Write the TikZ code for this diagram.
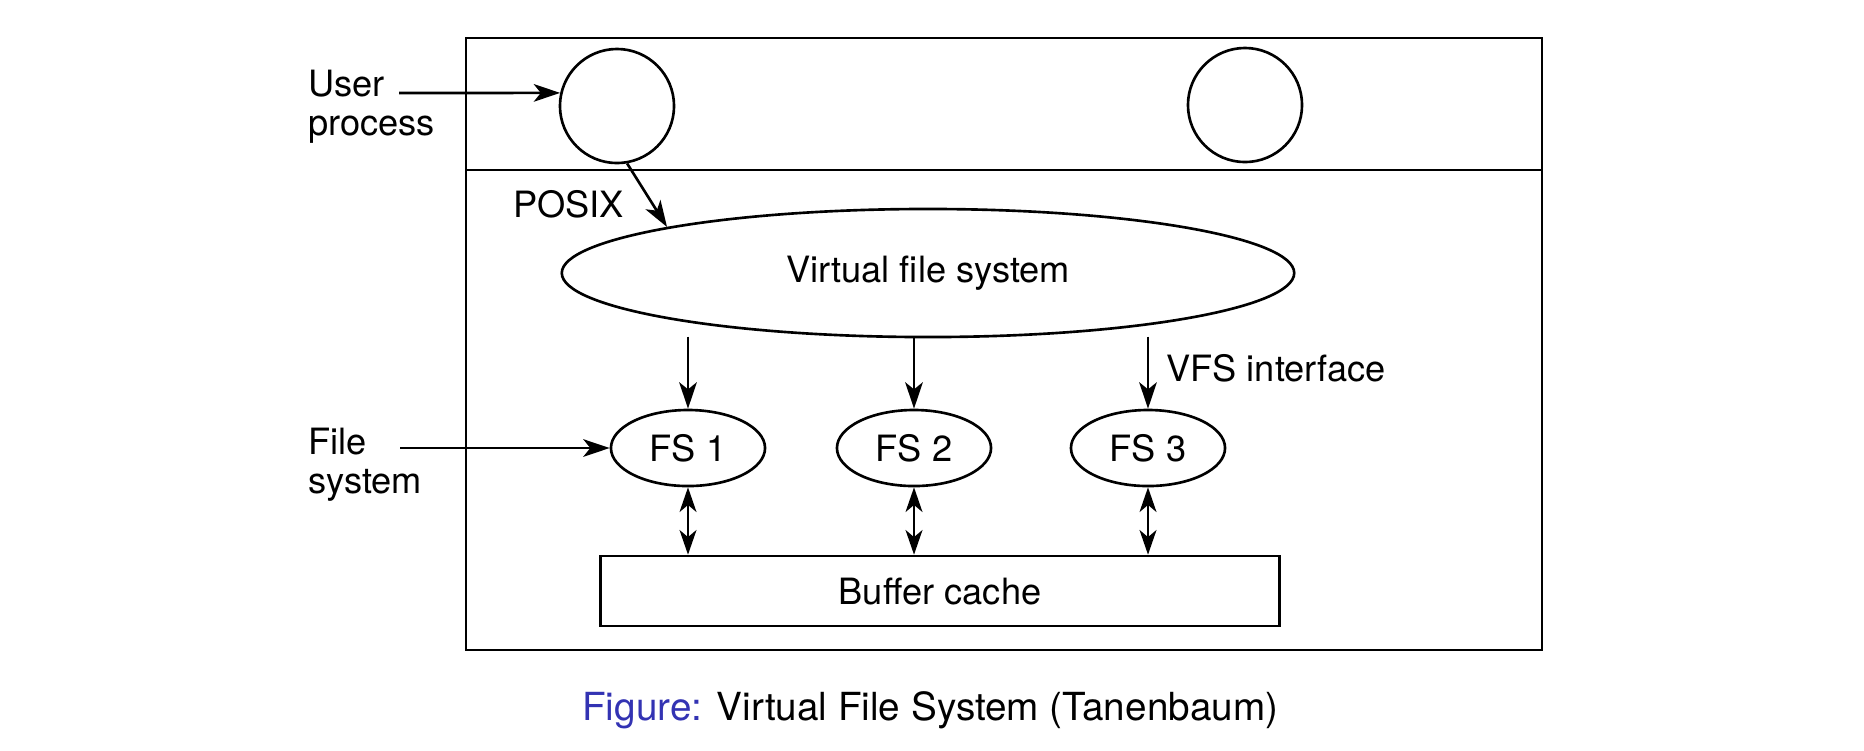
\documentclass[tikz,border=0pt]{standalone}
\usepackage{fontspec}
\setmainfont{TeX Gyre Heros}
\usetikzlibrary{shapes.geometric,arrows.meta}
\definecolor{figblue}{RGB}{51,51,179}

\begin{document}
\begin{tikzpicture}[x=0.01cm, y=-0.01cm, line width=0.75pt,
        every node/.style={font=\fontsize{10.3}{11.1}\selectfont},
        arr/.style={-{Stealth[length=7.5pt,width=5pt,inset=2pt]}},
        darr/.style={{Stealth[length=7pt,width=4.8pt,inset=2pt]}-{Stealth[length=7pt,width=4.8pt,inset=2pt]}},
        proc/.style={draw, circle, minimum size=1.14cm, inner sep=0pt},
        fsnode/.style={draw, ellipse, minimum width=1.54cm, minimum height=0.76cm, inner sep=0pt}]
        \useasboundingbox (0,0) rectangle (1864,750);

        \draw (466,38) rectangle (1542,650);
        \draw (466,170) -- (1542,170);

        \node[proc] (proc1) at (617,106) {};
        \node[proc] (proc2) at (1245,105) {};
        \node[draw, ellipse, minimum width=7.32cm, minimum height=1.28cm, inner sep=0pt] (vfs) at (928,273) {Virtual file system};
        \node[fsnode] (fs1) at (688,448) {FS 1};
        \node[fsnode] (fs2) at (914,448) {FS 2};
        \node[fsnode] (fs3) at (1148,448) {FS 3};
        \node[draw, minimum width=6.78cm, minimum height=0.70cm, inner sep=0pt] (buf) at (940,591) {Buffer cache};

        \node[anchor=west, align=left, inner sep=0pt] (user) at (307,107) {User\\process};
        \node[anchor=west, align=left, inner sep=0pt] (filesys) at (307,465) {File\\system};
        \node[anchor=base west, inner sep=0pt] (posix) at (512,217) {POSIX};
        \node[anchor=base west, inner sep=0pt] (vfsif) at (1165,381) {VFS interface};

        \coordinate (userin) at (399,93);
        \coordinate (fsin) at (400,448);
        \draw[arr] (userin) -- (proc1.167);
        \draw[arr] (fsin) -- (fs1.west);
        \draw[arr] (proc1.-80) -- (vfs.170.5);
        \foreach \i in {1,2,3} {
            \draw[arr] ([yshift=0.72cm]fs\i.north) -- (fs\i.north);
            \draw[darr] (fs\i.south) -- (fs\i.south |- buf.north);
        }

        \node[anchor=base west, inner sep=0pt, font=\fontsize{11}{13}\selectfont] (caption) at (581,720) {\textcolor{figblue}{Figure:} Virtual File System (Tanenbaum)};
\end{tikzpicture}
\end{document}
